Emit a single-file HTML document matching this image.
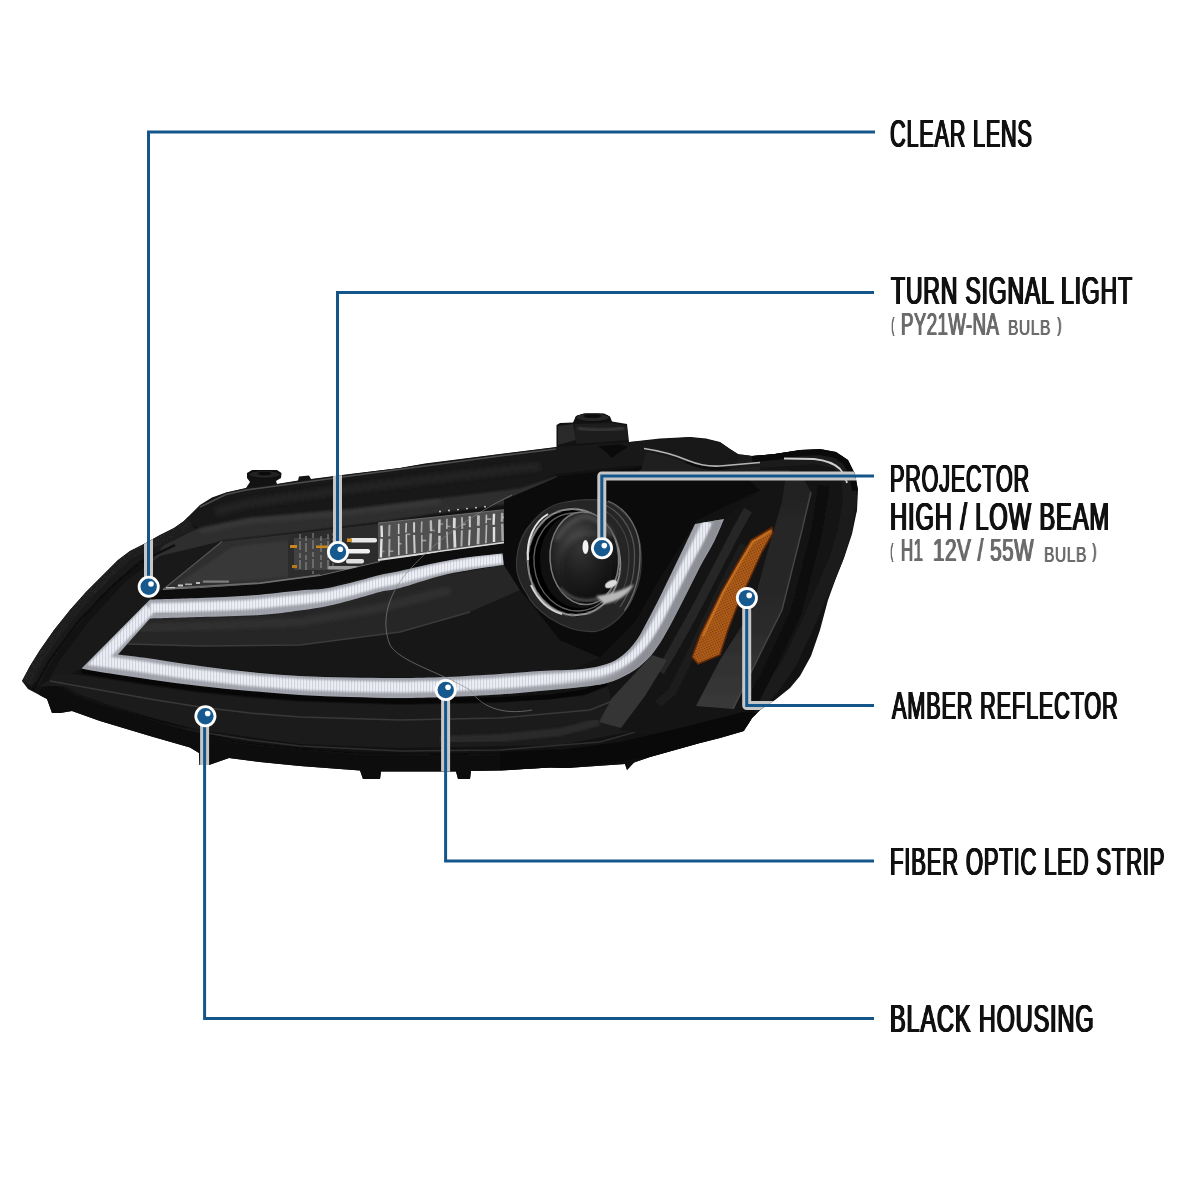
<!DOCTYPE html>
<html lang="en">
<head>
<meta charset="utf-8">
<title>Headlight Features</title>
<style>
html,body{margin:0;padding:0;background:#fff;}
body{width:1200px;height:1200px;overflow:hidden;position:relative;font-family:"Liberation Sans",sans-serif;}
svg{position:absolute;left:0;top:0;display:block;}
.t{position:absolute;white-space:nowrap;transform-origin:0 0;line-height:1;font-weight:normal;font-family:"Liberation Sans",sans-serif;color:#111;margin:0;will-change:transform;}
.lbl{letter-spacing:1.4px;text-shadow:0.7px 0 0 #111,-0.7px 0 0 #111,1.3px 0 0 #111,-1.3px 0 0 #111;}
.sub .t{color:#6b6b6b;letter-spacing:0.8px;text-shadow:0.5px 0 0 #6b6b6b,-0.5px 0 0 #6b6b6b,0.9px 0 0 #6b6b6b,-0.9px 0 0 #6b6b6b;}

.sub .s{text-shadow:0.5px 0 0 #6b6b6b,-0.5px 0 0 #6b6b6b;}
.sub .p{font-weight:bold;text-shadow:none;}
</style>
</head>
<body>
<svg width="1200" height="1200" viewBox="0 0 1200 1200">
<defs>
<path id="sil" d="M22,681 L30,666 L40,650 L54,630 L70,610 L86,592 L102,576 L118,560 L130,551 L144,544 L160,535 L174,528 L184,521 L192,513 L200,505 L212,497.5 L226,492.5 L246,488
 L250,482 L247,478 L247,473 L252,470 L277,470 L281.5,473 L281,478 L276,481 L277,484
 L298,480.5 L299,476.5 L309,475.5 L311,479
 L350,474 L400,468 L425,463.5 L500,454 L556.5,447
 L556.5,425 L560,423 L573,422.5 L576,416 L584,413.5 L604,413.5 L610,416.5 L612,421.5 L627,424 L629,442
 L660,438.5 L690,437 L706,438.5 L720,442 L730,449 L738,454 L752,456 L775,454 L800,450 L820,449 L836,452 L848,460 L855,474 L858,490 L857,510 L852,534 L844,558 L836,578 L828,600 L820,630 L811,656 L800,676 L790,688 L775,700 L760,710 L752,718 L744,731
 L720,738 L700,743 L650,757 L634,762.5 L627,770 L625,764 L567,768 L550,767.5 L500,770.5
 L471,771 L470,779 L458,779 L456,771.5 L381,771.5 L380,779 L363,779 L360,770.5 L300,766 L260,762 L229,758 L209,765 L199.5,765 L199,753 L190,747.5 L150,736 L100,721 L72,711 L60,713 L52,713 L47,699 L28,689 Z"/>
<clipPath id="silclip"><use href="#sil"/></clipPath>
<filter id="b1" x="-10%" y="-10%" width="120%" height="120%"><feGaussianBlur stdDeviation="1"/></filter>
<filter id="b2" x="-10%" y="-10%" width="120%" height="120%"><feGaussianBlur stdDeviation="2"/></filter>
<filter id="b4" x="-20%" y="-20%" width="140%" height="140%"><feGaussianBlur stdDeviation="4"/></filter>
<filter id="b05" x="-10%" y="-10%" width="120%" height="120%"><feGaussianBlur stdDeviation="0.6"/></filter>
<!-- LED strip outline: outer then inner -->
<path id="led" d="M150.0,599.5 C158.3,599.2 183.3,598.7 200.0,598.0 C216.7,597.3 233.3,596.8 250.0,595.5 C266.7,594.2 287.5,591.7 300.0,590.5 C312.5,589.3 316.7,589.8 325.0,588.5 C333.3,587.2 340.8,585.2 350.0,583.0 C359.2,580.8 371.7,577.0 380.0,575.0 C388.3,573.0 390.0,573.2 400.0,571.0 C410.0,568.8 428.3,564.3 440.0,562.0 C451.7,559.7 459.6,558.4 470.0,557.0 C480.4,555.6 497.1,554.1 502.5,553.5 L503.8,565.0 C498.1,565.8 480.6,568.2 470.0,570.0 C459.4,571.8 451.7,573.0 440.0,576.0 C428.3,579.0 410.0,585.3 400.0,588.0 C390.0,590.7 388.3,589.9 380.0,592.0 C371.7,594.1 358.7,598.2 350.0,600.5 C341.3,602.8 336.3,604.3 328.0,606.0 C319.7,607.7 311.3,609.0 300.0,610.5 C288.7,612.0 276.7,613.9 260.0,615.0 C243.3,616.1 218.3,616.4 200.0,617.0 C181.7,617.6 158.3,618.2 150.0,618.5 L118.0,654.5 C123.3,655.2 136.3,656.6 150.0,658.5 C163.7,660.4 183.3,663.8 200.0,666.0 C216.7,668.2 233.3,670.3 250.0,672.0 C266.7,673.7 283.3,675.1 300.0,676.0 C316.7,676.9 333.3,677.2 350.0,677.5 C366.7,677.8 384.0,678.1 400.0,678.0 C416.0,677.9 429.3,677.7 446.0,677.0 C462.7,676.3 484.3,675.0 500.0,674.0 C515.7,673.0 526.4,671.8 540.0,671.0 C553.6,670.2 570.6,670.2 581.7,669.0 C592.8,667.8 599.8,666.3 606.7,664.0 C613.6,661.7 618.0,659.0 623.0,655.0 C628.0,651.0 632.5,645.8 636.7,640.0 C640.9,634.2 644.1,627.2 648.0,620.0 C651.9,612.8 655.8,605.0 660.0,596.7 C664.2,588.4 668.7,579.0 673.0,570.0 C677.3,561.0 682.3,550.7 686.0,543.0 C689.7,535.3 693.5,527.2 695.0,524.0 L724.0,519.0 C722.3,522.8 718.0,533.8 714.0,541.7 C710.0,549.7 704.5,558.1 700.0,566.7 C695.5,575.3 691.2,584.4 686.7,593.3 C682.2,602.2 677.5,611.7 673.0,620.0 C668.5,628.3 664.4,636.3 660.0,643.0 C655.6,649.7 651.7,655.0 646.7,660.0 C641.7,665.0 636.7,669.2 630.0,673.0 C623.3,676.8 616.2,680.5 606.7,683.0 C597.2,685.5 584.1,686.7 573.0,688.0 C561.9,689.3 552.2,689.9 540.0,691.0 C527.8,692.1 515.7,693.5 500.0,694.5 C484.3,695.5 462.7,696.4 446.0,697.0 C429.3,697.6 416.0,698.0 400.0,698.0 C384.0,698.0 366.7,697.5 350.0,697.0 C333.3,696.5 316.7,696.0 300.0,695.0 C283.3,694.0 266.7,692.5 250.0,691.0 C233.3,689.5 216.7,687.9 200.0,686.0 C183.3,684.1 166.7,681.8 150.0,679.5 C133.3,677.2 111.4,673.8 100.0,672.0 C88.6,670.2 84.6,669.1 81.5,668.5 Z"/>
<clipPath id="ledclip"><use href="#led"/></clipPath>
<pattern id="hatch" width="3" height="8" patternUnits="userSpaceOnUse"><rect width="1.1" height="8" fill="#8f93a6"/></pattern>
<pattern id="amberdots" width="2.4" height="2.4" patternUnits="userSpaceOnUse" patternTransform="rotate(-24)"><rect width="2.4" height="2.4" fill="#b05e19"/><rect width="1.2" height="1.2" fill="#78390f"/></pattern>
<linearGradient id="gTop" x1="0" y1="0" x2="0" y2="1"><stop offset="0" stop-color="#3a3a3a"/><stop offset="0.15" stop-color="#202020"/><stop offset="1" stop-color="#141414"/></linearGradient>
<radialGradient id="gLens" cx="0.45" cy="0.4" r="0.6"><stop offset="0" stop-color="#5c5c5c"/><stop offset="0.5" stop-color="#303030"/><stop offset="1" stop-color="#0d0d0d"/></radialGradient>
<linearGradient id="gRibC" x1="0" y1="0" x2="0" y2="1"><stop offset="0" stop-color="#232323"/><stop offset="0.6" stop-color="#292929"/><stop offset="1" stop-color="#393939"/></linearGradient>
<linearGradient id="gGreyFade" gradientUnits="userSpaceOnUse" x1="540" y1="0" x2="640" y2="0"><stop offset="0" stop-color="#8d8e94" stop-opacity="0"/><stop offset="1" stop-color="#8d8e94" stop-opacity="1"/></linearGradient>
<filter id="noise" x="-5%" y="-5%" width="110%" height="110%"><feTurbulence type="fractalNoise" baseFrequency="0.55" numOctaves="2" seed="3" result="n"/><feColorMatrix in="n" type="matrix" values="0 0 0 0 1  0 0 0 0 1  0 0 0 0 1  1.6 0 0 0 -0.75" result="a"/><feComposite in="SourceGraphic" in2="a" operator="in"/></filter>

</defs>
<rect width="1200" height="1200" fill="#fff"/>
<g id="lamp">
<use href="#sil" fill="#121212"/>
<g clip-path="url(#silclip)">
<!-- top housing band -->
<path d="M184,521 L200,505 L226,492.5 L246,488 L350,474 L500,454 L556,447 L629,442 L690,437 L720,442 L738,454 L738,470 L690,462 L629,466 L556,474 L520,488 L440,498 L350,509 L250,517.5 L200,528 Z" fill="#181818"/>
<path d="M215,512 L250,503 L350,489 L440,478 L540,466" fill="none" stroke="#242424" stroke-width="9" filter="url(#b2)"/>
<path d="M200,507 L226,494.5 L246,490 L350,476 L500,456 L556,449" fill="none" stroke="#4b4b4b" stroke-width="1.6" filter="url(#b05)"/>
<!-- upper lens reflection band -->
<path d="M170,536 L200,528 L250,517.5 L350,509 L440,498 L520,488 L556,476 L560,497 L508,504 L440,513 L380,522 L300,532 L222,541 L175,560 L140,575 Z" fill="#2d2d2d" filter="url(#b1)"/>
<path d="M200,531 L250,521 L350,512.5 L440,501.5" fill="none" stroke="#3b3b3b" stroke-width="4" filter="url(#b2)"/>
<!-- left outer textured band -->
<path d="M22,681 L30,666 L40,650 L54,630 L70,610 L86,592 L102,576 L118,560 L130,551 L144,544 L160,535 L174,528 L190,520" fill="none" stroke="#1d1d1d" stroke-width="22"/>
<path d="M24,683 L32,667 L42,651 L56,631 L72,611 L88,593 L104,577 L120,561 L132,553 L146,546 L162,537 L176,530 L190,522" fill="none" stroke="#3a3a3a" stroke-width="11" filter="url(#noise)" opacity="0.9"/>
<path d="M36,684 L44,668 L54,652 L68,632 L84,612 L100,594 L116,578 L132,563 L146,555 L160,549" fill="none" stroke="#191919" stroke-width="7"/>
<path d="M33,690 L50,660 L78,622 L110,588 L140,562 L175,545" fill="none" stroke="#0c0c0c" stroke-width="2" filter="url(#b05)"/>
<!-- region between band and strip -->
<path d="M44,688 L60,660 L90,620 L125,582 L160,556 L222,541 L162,589 L150,600 L81.5,668.5 Z" fill="#191919"/>
<!-- turn-signal lens trapezoid -->
<path d="M222,541.5 L300,533 L380,523.5 L380,562 L320,576 L260,584 L200,588 L163,589.5 Z" fill="#2f2f2f"/>
<path d="M232,547 L300,539 L378,529 L378,560 L320,572 L260,580 L200,584 L176,585 Z" fill="#383838" filter="url(#b1)"/>
<path d="M222,541.5 L163,589.5" stroke="#555" stroke-width="1.2" fill="none"/>
<path d="M170,588 L200,586.5 L260,583 L320,575" stroke="#6a6a6a" stroke-width="1.5" fill="none" filter="url(#b05)"/>
<!-- speckles at trapezoid bottom-left -->
<g fill="#d8d8d8" filter="url(#b05)">
<rect x="166" y="587" width="9" height="1.6" opacity="0.8"/><rect x="178" y="584.5" width="5" height="2" opacity="0.9"/><rect x="185" y="583.5" width="7" height="1.6" opacity="0.7"/><rect x="196" y="582" width="4" height="2" opacity="0.8"/>
<rect x="203" y="580.5" width="26" height="2.2" opacity="0.45"/>
</g>
<path d="M163,589.5 L200,588 L260,584 L320,576 L380,562" fill="none" stroke="#777" stroke-width="1.3" filter="url(#b05)"/>
<!-- bulb area -->
<path d="M288,536 L380,524 L380,560 L330,572 L288,578 Z" fill="#2c2c2c"/>
<g filter="url(#b05)">
<rect x="294" y="538" width="36" height="32" fill="#4a4a4a" opacity="0.75"/>
<path d="M300,534 V572 M306,536 V570 M313,533 V574 M321,536 V568 M328,534 V572" stroke="#b8b8b8" stroke-width="1.3" opacity="0.55" stroke-dasharray="5 2 9 3"/>
<path d="M333,533 V568 M340,530 V545" stroke="#9a9a9a" stroke-width="1.2" opacity="0.6" stroke-dasharray="3 2"/>
<rect x="350" y="538" width="27" height="4.5" rx="2" fill="#e6e6e6"/>
<rect x="346" y="549" width="24" height="4.5" rx="2" fill="#f0f0f0"/>
<rect x="346" y="559" width="18" height="4.5" rx="2" fill="#e0e0e0"/>
<rect x="328" y="566" width="30" height="3.5" rx="1.5" fill="#9a9a9a"/>
<rect x="290" y="545" width="7" height="3" fill="#c8871f"/><rect x="316" y="545.5" width="12" height="2.5" fill="#c8871f"/><rect x="347" y="538.5" width="5" height="3.5" fill="#d29020"/>
<rect x="292" y="565" width="5" height="3" fill="#b97a1a"/>
</g>
<!-- reflector with vertical stripes -->
<path d="M378,523 L440,516.5 L506,509.5 L508,525 L506,542.5 L440,551.5 L378,560 Z" fill="#505050"/>
<g filter="url(#b05)">
<path d="M381.5,525.6 L381.9,537.1 M381.5,538.7 L380.9,557.5" stroke="#e4e4e4" stroke-width="2.4" opacity="0.98"/>
<path d="M381.5,551.4 h3.0" stroke="#cfcfcf" stroke-width="1.6" opacity="0.43"/>
<path d="M389.5,524.8 L389.1,536.3 M389.5,539.0 L389.1,556.4" stroke="#e4e4e4" stroke-width="2" opacity="0.59"/>
<path d="M389.5,551.2 h3.9" stroke="#cfcfcf" stroke-width="1.6" opacity="0.56"/>
<path d="M398.7,523.8 L398.7,533.9 M398.7,536.0 L398.8,555.2" stroke="#e4e4e4" stroke-width="1.6" opacity="0.80"/>
<path d="M398.7,543.7 h2.8" stroke="#cfcfcf" stroke-width="1.6" opacity="0.63"/>
<path d="M406.3,523.0 L405.9,532.6 M406.3,534.2 L406.6,554.1" stroke="#e4e4e4" stroke-width="1.6" opacity="0.80"/>
<path d="M406.3,534.3 h4.0" stroke="#cfcfcf" stroke-width="1.6" opacity="0.58"/>
<path d="M414.1,522.2 L414.1,532.6 M414.1,535.0 L414.7,553.1" stroke="#e4e4e4" stroke-width="2" opacity="0.86"/>
<path d="M421.8,521.4 L421.4,532.5 M421.8,535.1 L421.8,552.0" stroke="#e4e4e4" stroke-width="1.6" opacity="0.60"/>
<path d="M421.8,540.5 h4.4" stroke="#cfcfcf" stroke-width="1.6" opacity="0.63"/>
<path d="M430.8,520.4 L431.1,531.1 M430.8,533.4 L430.1,550.8" stroke="#e4e4e4" stroke-width="2.4" opacity="0.70"/>
<path d="M430.8,530.5 h4.2" stroke="#cfcfcf" stroke-width="1.6" opacity="0.43"/>
<path d="M439.5,519.5 L439.2,533.0 M439.5,535.8 L439.3,549.6" stroke="#e4e4e4" stroke-width="2.4" opacity="0.84"/>
<path d="M439.5,524.0 h3.7" stroke="#cfcfcf" stroke-width="1.6" opacity="0.47"/>
<path d="M446.9,518.7 L446.8,529.0 M446.9,531.6 L447.6,548.6" stroke="#e4e4e4" stroke-width="1.6" opacity="0.65"/>
<path d="M446.9,526.4 h3.5" stroke="#cfcfcf" stroke-width="1.6" opacity="0.51"/>
<path d="M454.4,517.9 L454.2,528.1 M454.4,530.2 L455.0,547.6" stroke="#e4e4e4" stroke-width="2.8" opacity="0.94"/>
<path d="M461.9,517.2 L462.3,528.9 M461.9,530.4 L461.4,546.5" stroke="#e4e4e4" stroke-width="2" opacity="0.62"/>
<path d="M461.9,524.3 h3.8" stroke="#cfcfcf" stroke-width="1.6" opacity="0.64"/>
<path d="M469.7,516.3 L469.9,527.3 M469.7,529.7 L469.0,545.5" stroke="#e4e4e4" stroke-width="2" opacity="0.86"/>
<path d="M478.5,515.4 L478.3,525.8 M478.5,528.0 L478.0,544.3" stroke="#e4e4e4" stroke-width="2.8" opacity="0.73"/>
<path d="M486.5,514.6 L486.1,523.4 M486.5,524.9 L485.9,543.2" stroke="#e4e4e4" stroke-width="1.6" opacity="0.70"/>
<path d="M486.5,519.1 h4.7" stroke="#cfcfcf" stroke-width="1.6" opacity="0.65"/>
<path d="M494.0,513.8 L493.6,524.8 M494.0,527.0 L494.0,542.1" stroke="#e4e4e4" stroke-width="2.4" opacity="0.98"/>
<path d="M502.2,512.9 L501.9,521.8 M502.2,523.8 L502.7,541.0" stroke="#e4e4e4" stroke-width="2.4" opacity="0.59"/>
<path d="M502.2,517.4 h4.9" stroke="#cfcfcf" stroke-width="1.6" opacity="0.61"/>
</g>
<circle cx="440" cy="511.5" r="0.9" fill="#ddd"/><circle cx="449" cy="510.5" r="0.9" fill="#ddd"/><circle cx="458" cy="509.6" r="0.9" fill="#ddd"/><circle cx="467" cy="508.6" r="0.9" fill="#ddd"/><circle cx="476" cy="507.7" r="0.9" fill="#ddd"/><circle cx="485" cy="506.7" r="0.9" fill="#ddd"/>
<path d="M378,523 L440,516.5 L506,509.5" fill="none" stroke="#7a7a7a" stroke-width="1" opacity="0.8"/>
<path d="M378,560 L440,551.5 L506,542.5" fill="none" stroke="#d8d8d8" stroke-width="2" filter="url(#b05)"/>

<!-- dark gap under turn signal -->
<path d="M150,600 L163,590 L200,588 L260,584 L320,576 L380,562 L440,552 L507,543 L503,553.5 L470,557 L440,562 L380,574.5 L320,588 L260,597 L200,600 Z" fill="#0d0d0d"/>
<!-- inside of loop -->
<path d="M150,618 L200,616.5 L260,614.5 L300,611 L328,606 L380,592 L440,576 L504,565 L530,600 L560,640 L600,657.5 L575,668.5 L550,672.5 L446,677.5 L300,676 L200,666 L118,654.5 Z" fill="#171717"/>
<path d="M150,618 L200,616.5 L260,614.5 L300,611 L328,606 L380,592 L440,576 L504,565 L520,590 L470,612 L400,632 L300,645 L200,646 L128,644 Z" fill="#262626"/>
<path d="M128,644 L200,646 L300,645 L400,632 L470,612" stroke="#3a3a3a" stroke-width="1.5" fill="none" filter="url(#b05)"/>
<path d="M140,628 L200,626 L300,622 L380,608 L450,590" stroke="#303030" stroke-width="8" fill="none" filter="url(#b2)"/>
<!-- lower lip -->
<path d="M60,672 L100,678 L150,686 L200,693 L250,698 L300,702 L400,705 L500,703 L582,696 L625,680 L660,650 L680,690 L640,730 L560,745 L400,748 L300,744 L200,730 L100,705 L40,686 Z" fill="#1b1b1b"/>
<path d="M50,681 L100,690 L150,699 L200,707 L250,713 L300,717 L400,720 L500,718 L590,710 L640,690" stroke="#383838" stroke-width="1.5" fill="none" filter="url(#b05)"/>
<path d="M60,697 L100,708 L150,721 L200,732 L250,740 L300,746 L400,751 L500,750 L600,742 L660,725" stroke="#2e2e2e" stroke-width="1.5" fill="none" filter="url(#b05)"/>
<path d="M81.5,671 L150,682 L200,689 L250,694 L300,698 L400,701.5 L500,699.5 L550,697 L585,692 L610,682" stroke="#070707" stroke-width="5" fill="none"/>
<path d="M40,694 L72,711 L100,721 L150,736 L190,747.5 L229,758 L260,762 L300,766 L360,770.5 L456,771.5 L500,770.5 L550,767.5 L567,768 L634,762.5 L650,757 L700,743 L743,731" fill="none" stroke="#090909" stroke-width="34" filter="url(#b1)"/>
<!-- projector bowl area -->
<path d="M504,500 L560,476 L690,462 L738,470 L760,490 L697,520 L660,578 L635,622 L600,657.5 L560,640 L520,590 L504,565 Z" fill="#0b0b0b"/>
<!-- right frames -->
<g id="rightframes">
<path d="M738,470 L760,490 L722.5,520 L713,541.7 L700,566.7 L686.7,593.3 L673,620 L660,643 L646.7,660 L630,673 L606.7,683 L620,730 L700,743 L743,731 L795,670 L836,578 L857,510 L855,474 L836,452 L800,450 L752,456 Z" fill="#141414"/>
<!-- outer lens frame -->
<path d="M738,462 L775,460 L815,457 L838,462 L848,478 L850,500 L845,530 L836,560 L822,592 L806,628 L790,662 L772,688 L750,712" fill="none" stroke="#1b1b1b" stroke-width="14"/>
<path d="M824,486 L816,535 L796,612 L776,655 L748,712" fill="none" stroke="#0b0b0b" stroke-width="11" filter="url(#b05)"/>
<!-- rib C: top + descending -->
<path d="M640,474 L700,470.5 L750,471 L790,472" fill="none" stroke="#262626" stroke-width="10" filter="url(#b1)"/>
<path d="M786,476 L803,478 L811,492 L802,530 L782,610 L762,650 L733,709 L696,706 L720,660 L752,610 L768,550 L782,502 Z" fill="url(#gRibC)" filter="url(#b05)"/>
<path d="M811,492 L802,530 L782,610 L762,650 L733,709" fill="none" stroke="#454545" stroke-width="1.5" filter="url(#b05)"/>
<!-- rib A -->
<path d="M748,510 L738,528 L716,570 L692,616 L672,652 L660,672" fill="none" stroke="#252525" stroke-width="9" filter="url(#b05)"/>
<path d="M667,660 L645,696 L621,728 L599,722 L612,698 L652,655 Z" fill="#343434" filter="url(#b05)"/>
<path d="M599,722 L560,732 L500,738 L440,740" fill="none" stroke="#2c2c2c" stroke-width="8" filter="url(#b1)"/>
<!-- rib B -->
<path d="M744,545 L722,588 L702,630 L690,656 L672,692 L658,704" fill="none" stroke="#1f1f1f" stroke-width="8" filter="url(#b05)"/>
<!-- amber -->
<path d="M772,527.5 L751,540 L738,562 L721,592 L700,635 L692,657 L698,664 L720,655 L728,630 L738,604 L752,574 L762,552 L773,533 Z" fill="url(#amberdots)" stroke="#5a2508" stroke-width="1.5"/>
<path d="M771,531 L753,542 L740,563 L723,593 L703,636" fill="none" stroke="#e08a2a" stroke-width="2" opacity="0.5" filter="url(#b05)"/>
<!-- bottom black lip right -->
<path d="M500,752 L560,750 L620,742 L680,728 L743,712 L757,713 L743,731 L700,743 L650,757 L567,768 L500,770.5 Z" fill="#090909"/>
<!-- top-right highlight -->
<path d="M752,456 L775,454 L800,450 L820,449 L836,452 L848,460 L855,474 L858,490" fill="none" stroke="#0a0a0a" stroke-width="12"/>
<path d="M784,458.5 L814,459 Q832,461 840,469 Q845,475 847,483" fill="none" stroke="#cfcfcf" stroke-width="1.8" filter="url(#b05)"/>
<path d="M644,448.5 Q668,452 688,460.5 Q704,467 720,466 L760,462.5" fill="none" stroke="#b4b4b4" stroke-width="1.6" filter="url(#b05)"/>
<path d="M646,452 Q668,455 688,464 Q704,471 720,470 L760,466 L760,474 L640,474 Z" fill="#1f1f1f"/>
</g>
<!-- projector -->
<g id="proj">
<path d="M516.5,564 C517,545 523,533 530,525 C540,512 552,504.5 563,502.5 C580,499 595,499 605,501 C626,508 640,530 641,552 C642,568 640,582 635,592.5 C628,612 612,628 596,631.5 C578,633 562,626 549.5,618 C538,610 530,602 527,594 C520,584 516,575 516.5,564 Z" fill="#252525" stroke="#3a3a3a" stroke-width="1.2"/>
<path d="M608,501 C630,510 640.5,532 640,555 C640,580 634,596 624.5,610.5" fill="none" stroke="#6a6a6a" stroke-width="1.3" filter="url(#b05)"/>
<path d="M603,504 C624,513 635,534 634.5,556 C634.5,580 629,594 620,607" fill="none" stroke="#555" stroke-width="1.2" filter="url(#b05)"/>
<path d="M598,507 C618,516 629.5,536 629,557 C629,578 624,592 615,604" fill="none" stroke="#444" stroke-width="1.2" filter="url(#b05)"/>
<ellipse cx="574" cy="562" rx="47.5" ry="54.5" fill="#0a0a0a" transform="rotate(-6.5 574 562)"/>
<ellipse cx="574" cy="562" rx="46.2" ry="53.2" fill="#050505" stroke="#9a9a9a" stroke-width="1.7" transform="rotate(-6.5 574 562)" filter="url(#b05)"/>
<path d="M528,560 C526,540 534,522 548,514" fill="none" stroke="#e0e0e0" stroke-width="2" filter="url(#b05)"/>
<path d="M531,585 C538,600 548,610 562,614" fill="none" stroke="#d0d0d0" stroke-width="2" filter="url(#b05)"/>
<ellipse cx="576" cy="562" rx="42" ry="49" fill="none" stroke="#5e5e5e" stroke-width="1.4" transform="rotate(-6.5 576 562)"/>
<ellipse cx="579" cy="561" rx="39" ry="47.5" fill="#101010" transform="rotate(-5 579 561)"/>
<ellipse cx="584.3" cy="558.3" rx="34.3" ry="46.3" fill="url(#gLens)" stroke="#7a7a7a" stroke-width="1.5" transform="rotate(-3.7 584.3 558.3)"/>
<ellipse cx="587" cy="568" rx="26" ry="31" fill="#080808" opacity="0.5" filter="url(#b2)"/>
<path d="M556,540 Q566,522 584,516 Q602,518 612,536" fill="none" stroke="#4e4e4e" stroke-width="5" filter="url(#b2)"/>
<path d="M560,588 Q578,608 606,596" fill="none" stroke="#4a4a4a" stroke-width="3" filter="url(#b1)"/>
<path d="M596,596 Q616,594 634,584 Q626,600 604,604 Z" fill="#b8b8b8" filter="url(#b1)"/>
<ellipse cx="585.5" cy="547" rx="3" ry="7" fill="#f4f4f4" filter="url(#b05)"/>
<ellipse cx="611" cy="584" rx="6.5" ry="3.6" fill="#dcdcdc" filter="url(#b05)" transform="rotate(-25 611 584)"/>
</g>
<!-- connector + mounts -->
<g id="conn">
<path d="M558,426 L573,424 L576,440 L558,445 Z" fill="#2a2a2a"/>
<path d="M574,424 L612,423 L627,426 L628,440 L576,444 Z" fill="#1d1d1d"/>
<path d="M578,428 Q600,432 624,428" fill="none" stroke="#3a3a3a" stroke-width="3" filter="url(#b1)"/>
<ellipse cx="592.5" cy="417.5" rx="17" ry="4.2" fill="#262626" stroke="#0c0c0c" stroke-width="1"/>
<ellipse cx="592.5" cy="416" rx="9" ry="2" fill="#0c0c0c"/>
<path d="M598,446 L620,444.5 L628,447 L618,453 L612,458 L606,452 Z" fill="#0a0a0a"/>
<ellipse cx="264.5" cy="474.5" rx="16" ry="4" fill="#222" stroke="#0b0b0b" stroke-width="1"/>
<ellipse cx="264.5" cy="473.5" rx="7" ry="1.8" fill="#0a0a0a"/>
</g>
<!-- LED strip -->
<use href="#led" fill="#a2a4ac"/>
<g clip-path="url(#ledclip)">
<path d="M150.0,608.0 C158.3,607.8 183.3,607.2 200.0,606.6 C216.7,605.9 233.3,605.6 250.0,604.4 C266.7,603.2 287.5,600.8 300.0,599.5 C312.5,598.2 316.7,598.0 325.0,596.6 C333.3,595.2 340.8,593.2 350.0,590.9 C359.2,588.6 371.7,584.7 380.0,582.7 C388.3,580.6 390.0,581.0 400.0,578.7 C410.0,576.3 428.3,570.9 440.0,568.3 C451.7,565.7 459.6,564.4 470.0,562.9 C480.4,561.3 497.1,559.4 502.5,558.8" fill="none" stroke="#eef0f6" stroke-width="9.5" filter="url(#b1)"/>
<path d="M150,608.5 L99,661 L119.1,663.5 C122.1,663.9 130.9,665.1 136.8,666.0 C142.6,666.8 148.5,667.7 154.4,668.6 C160.2,669.5 166.1,670.4 172.0,671.2 C177.8,672.0 183.7,672.9 189.6,673.6 C195.4,674.4 201.3,675.1 207.2,675.8 C213.1,676.5 219.0,677.2 224.9,677.9 C230.8,678.5 236.7,679.2 242.6,679.8 C248.5,680.4 254.4,680.9 260.3,681.4 C266.2,681.9 272.1,682.3 278.0,682.8 C283.9,683.3 289.8,683.8 295.8,684.1 C301.7,684.5 307.6,684.7 313.5,685.0 C319.4,685.2 325.4,685.4 331.3,685.6 C337.2,685.8 343.1,686.0 349.1,686.2 C355.0,686.3 360.9,686.4 366.9,686.5 C372.8,686.6 378.7,686.7 384.6,686.8 C390.6,686.8 396.5,687.0 402.4,686.9 C408.4,686.9 414.3,686.7 420.2,686.6 C426.1,686.4 432.1,686.4 438.0,686.2 C443.9,686.0 449.8,685.8 455.8,685.5 C461.7,685.2 467.6,684.9 473.5,684.6 C479.5,684.3 485.4,684.0 491.3,683.7 C497.2,683.3 503.1,682.9 509.0,682.5 C515.0,682.0 520.9,681.5 526.8,681.0 C532.7,680.6 538.6,680.0 544.5,679.6 C550.4,679.1 556.3,678.8 562.2,678.4 C568.1,677.9 574.1,677.4 579.9,676.8 C585.8,676.1 591.8,675.6 597.5,674.4 C603.3,673.1 609.1,671.6 614.4,669.2 C619.8,666.8 625.1,663.7 629.7,660.1 C634.3,656.5 638.3,652.1 642.1,647.5 C645.8,643.0 648.9,637.9 652.0,632.9 C655.1,627.8 657.8,622.6 660.6,617.3 C663.4,612.1 666.1,606.8 668.8,601.5 C671.4,596.2 674.1,590.9 676.7,585.6 C679.4,580.3 681.9,574.9 684.6,569.6 C687.2,564.3 690.0,559.1 692.7,553.8 C695.4,548.5 698.1,543.3 700.6,537.9 C703.2,532.6 706.8,524.4 708.1,521.8" fill="none" stroke="#eceef5" stroke-width="11" stroke-linejoin="miter" filter="url(#b1)"/>
<path d="M493.5,691.1 C496.5,690.9 505.8,690.3 511.9,689.8 C518.1,689.3 524.2,688.7 530.4,688.2 C536.5,687.7 542.7,687.1 548.8,686.6 C554.9,686.1 561.1,685.7 567.2,685.0 C573.4,684.4 579.5,683.6 585.6,682.8 C591.7,682.0 598.0,681.7 603.9,680.1 C609.8,678.5 615.6,676.2 621.1,673.4 C626.5,670.6 631.9,667.4 636.6,663.6 C641.3,659.7 645.6,655.2 649.5,650.4 C653.4,645.7 656.7,640.4 659.9,635.2 C663.1,630.0 666.1,624.5 669.0,619.1 C671.9,613.7 674.6,608.1 677.4,602.6 C680.2,597.1 683.0,591.6 685.8,586.1 C688.5,580.6 691.2,575.0 694.0,569.5 C696.9,564.1 699.9,558.7 702.8,553.2 C705.7,547.8 708.6,542.4 711.2,536.8 C713.9,531.2 717.5,522.7 718.8,519.9" fill="none" stroke="url(#gGreyFade)" stroke-width="9" filter="url(#b1)"/>
<use href="#led" fill="url(#hatch)" opacity="0.3"/>
</g>
<path d="M512,495 C470,515 430,545 405,575 C385,600 382,625 390,645 C400,662 440,672 470,690 C480,705 500,716 532,710" fill="none" stroke="#8a8a8a" stroke-width="0.9" opacity="0.7"/>
</g>

</g>
<g id="callouts">
<g clip-path="url(#silclip)" fill="none" stroke="#c6c6c6" stroke-width="9" stroke-linejoin="round">
<path d="M148.5,587 V400"/>
<path d="M337.5,552 V292.5 H874"/>
<path d="M601.8,548 V476 H874"/>
<path d="M746.7,598 V705.5 H874"/>
<path d="M445.6,690 V861 H874"/>
<path d="M204.6,716 V1018.5 H874"/>
</g>
<g fill="none" stroke="#15568a" stroke-width="3" stroke-linejoin="miter">
<path d="M148.5,587 V132 H875"/>
<path d="M337.5,552 V292.5 H874"/>
<path d="M601.8,548 V476 H874"/>
<path d="M746.7,598 V705.5 H874"/>
<path d="M445.6,690 V861 H874"/>
<path d="M204.6,716 V1018.5 H874"/>
</g>
<g id="dots">
<g transform="translate(148.7,586.7)"><circle r="11" fill="#fff"/><circle r="8.2" fill="#16598f"/><circle cx="2.3" cy="-2.7" r="2.8" fill="#fff"/></g>
<g transform="translate(338,552)"><circle r="11" fill="#fff"/><circle r="8.2" fill="#16598f"/><circle cx="2.3" cy="-2.7" r="2.8" fill="#fff"/></g>
<g transform="translate(602,548.3)"><circle r="11" fill="#fff"/><circle r="8.2" fill="#16598f"/><circle cx="2.3" cy="-2.7" r="2.8" fill="#fff"/></g>
<g transform="translate(746.9,598.1)"><circle r="11" fill="#fff"/><circle r="8.2" fill="#16598f"/><circle cx="2.3" cy="-2.7" r="2.8" fill="#fff"/></g>
<g transform="translate(445.75,690)"><circle r="11" fill="#fff"/><circle r="8.2" fill="#16598f"/><circle cx="2.3" cy="-2.7" r="2.8" fill="#fff"/></g>
<g transform="translate(205.4,716.25)"><circle r="11" fill="#fff"/><circle r="8.2" fill="#16598f"/><circle cx="2.3" cy="-2.7" r="2.8" fill="#fff"/></g>
</g>

</g>
</svg>
<div class="t lbl" style="left:890.44px;top:114.38px;font-size:39.24px;transform:scaleX(0.5525)">CLEAR LENS</div>
<div class="t lbl" style="left:891.03px;top:270.58px;font-size:39.24px;transform:scaleX(0.5862)">TURN SIGNAL LIGHT</div>
<div class="t lbl" style="left:890.43px;top:458.68px;font-size:39.24px;transform:scaleX(0.5511)">PROJECTOR</div>
<div class="t lbl" style="left:890.14px;top:496.88px;font-size:39.24px;transform:scaleX(0.6058)">HIGH / LOW BEAM</div>
<div class="t lbl" style="left:892.30px;top:685.53px;font-size:39.24px;transform:scaleX(0.5547)">AMBER REFLECTOR</div>
<div class="t lbl" style="left:890.41px;top:841.88px;font-size:39.24px;transform:scaleX(0.5625)">FIBER OPTIC LED STRIP</div>
<div class="t lbl" style="left:890.35px;top:998.58px;font-size:39.24px;transform:scaleX(0.5996)">BLACK HOUSING</div>
<div class="sub">
<span class="t p" style="left:890.80px;top:315.40px;font-size:20.20px;transform:scaleX(0.5400)">(</span>
<span class="t b" style="left:901.04px;top:308.55px;font-size:31.83px;transform:scaleX(0.5835)">PY21W-NA</span>
<span class="t s" style="left:1008.44px;top:316.80px;font-size:22.09px;transform:scaleX(0.7069)">BULB</span>
<span class="t p" style="left:1057.04px;top:315.40px;font-size:20.20px;transform:scaleX(0.7209)">)</span>
</div>
<div class="sub">
<span class="t p" style="left:890.00px;top:541.20px;font-size:20.20px;transform:scaleX(0.5400)">(</span>
<span class="t b" style="left:900.66px;top:535.48px;font-size:31.69px;transform:scaleX(0.5312)">H1</span>
<span class="t b" style="left:933.11px;top:535.48px;font-size:31.69px;transform:scaleX(0.6521)">12V / 55W</span>
<span class="t s" style="left:1044.00px;top:543.60px;font-size:22.09px;transform:scaleX(0.7072)">BULB</span>
<span class="t p" style="left:1092.04px;top:541.20px;font-size:20.20px;transform:scaleX(0.7209)">)</span>
</div>

</body>
</html>
